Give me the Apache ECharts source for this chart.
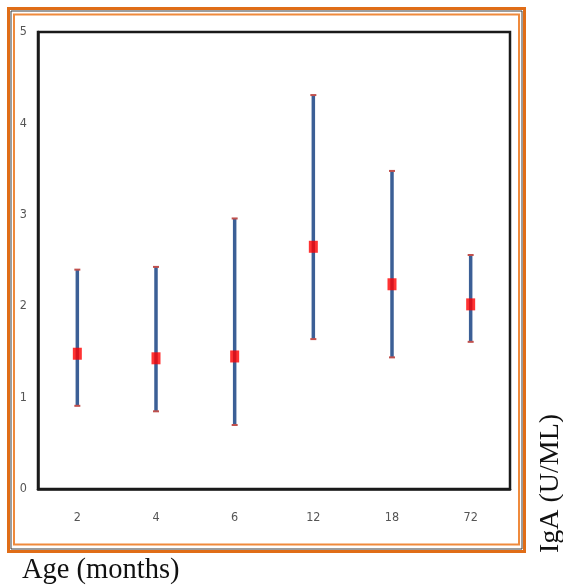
<!DOCTYPE html>
<html>
<head>
<meta charset="utf-8">
<script src="https://cdn.jsdelivr.net/npm/echarts@6/dist/echarts.min.js"></script>
<style>
html,body{margin:0;padding:0;background:#fff;}
#chart{width:563px;height:587px;}
</style>
</head>
<body>
<div id="chart"></div>
<script>
var categories = ['2', '4', '6', '12', '18', '72'];
var means = [1.48, 1.43, 1.45, 2.65, 2.24, 2.02];
var upper = [2.40, 2.43, 2.96, 4.31, 3.48, 2.56];
var lower = [0.91, 0.85, 0.70, 1.64, 1.44, 1.61];
var yTicks = [0, 1, 2, 3, 4, 5];

var errData = categories.map(function (c, i) { return [i, lower[i], upper[i]]; });
var meanData = categories.map(function (c, i) { return [i, means[i]]; });

var chart = echarts.init(document.getElementById('chart'), null, { renderer: 'canvas' });
var tickFont = "'Liberation Sans Narrow','DejaVu Sans Condensed','Liberation Sans',sans-serif";
chart.setOption({
  animation: false,
  backgroundColor: '#ffffff',
  grid: {
    left: 38, top: 32, width: 472, height: 457,
    show: true, borderColor: '#1a1a1a', borderWidth: 2.5, backgroundColor: 'transparent'
  },
  xAxis: {
    type: 'category',
    data: categories,
    boundaryGap: true,
    axisLine: { show: true, lineStyle: { color: '#1a1a1a', width: 2.5 } },
    axisTick: { show: false },
    axisLabel: { margin: 22, fontSize: 12.5, color: '#555555', fontFamily: tickFont }
  },
  yAxis: {
    type: 'value',
    min: 0, max: 5, interval: 1,
    splitLine: { show: false },
    axisLine: { show: true, lineStyle: { color: '#1a1a1a', width: 2.5 } },
    axisTick: { show: false },
    axisLabel: {
      margin: 11, fontSize: 12.5, color: '#555555', fontFamily: tickFont,
      formatter: function (v) { return yTicks.indexOf(v) >= 0 ? String(v) : ''; }
    }
  },
  graphic: [
    { type: 'rect', shape: { x: 8.5, y: 8.5, width: 516, height: 543 }, style: { fill: 'none', stroke: '#e06d17', lineWidth: 3 }, silent: true },
    { type: 'rect', shape: { x: 11, y: 11, width: 511, height: 538 }, style: { fill: 'none', stroke: '#3a3a3a', lineWidth: 1 }, silent: true },
    { type: 'rect', shape: { x: 14, y: 14.5, width: 505, height: 530 }, style: { fill: 'none', stroke: '#ef8a3c', lineWidth: 2 }, silent: true },
    { type: 'text', x: 22, y: 571, style: { text: 'Age (months)', font: "28.5px 'Liberation Serif', serif", fill: '#111', textVerticalAlign: 'middle' } },
    { type: 'text', x: 551, y: 553, rotation: Math.PI / 2, style: { text: 'IgA (U/ML)', font: "28px 'Liberation Serif', serif", fill: '#111', textVerticalAlign: 'middle' } }
  ],
  series: [
    {
      type: 'custom',
      data: errData,
      z: 3,
      renderItem: function (params, api) {
        var x = api.value(0);
        var lo = api.coord([x, api.value(1)]);
        var hi = api.coord([x, api.value(2)]);
        return {
          type: 'group',
          children: [
            { type: 'line', shape: { x1: hi[0], y1: hi[1], x2: lo[0], y2: lo[1] }, style: { stroke: '#3b5f96', lineWidth: 3.5 } },
            { type: 'line', shape: { x1: hi[0] - 3, y1: hi[1], x2: hi[0] + 3, y2: hi[1] }, style: { stroke: '#c0504d', lineWidth: 2 } },
            { type: 'line', shape: { x1: lo[0] - 3, y1: lo[1], x2: lo[0] + 3, y2: lo[1] }, style: { stroke: '#c0504d', lineWidth: 2 } }
          ]
        };
      }
    },
    {
      type: 'scatter',
      data: meanData,
      z: 4,
      symbol: 'rect',
      symbolSize: [9, 12],
      itemStyle: { color: '#ff0000' }
    }
  ]
});
</script>
</body>
</html>
